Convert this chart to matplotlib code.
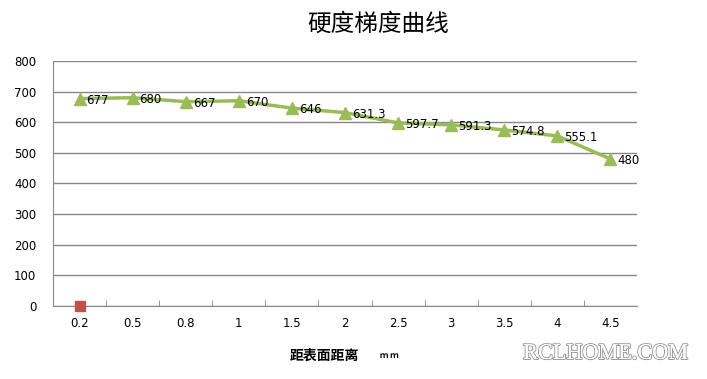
import matplotlib
matplotlib.use("Agg")
import matplotlib.pyplot as plt
import matplotlib.patheffects as pe

categories = ["0.2", "0.5", "0.8", "1", "1.5", "2", "2.5", "3", "3.5", "4", "4.5"]
hardness = [677, 680, 667, 670, 646, 631.3, 597.7, 591.3, 574.8, 555.1, 480]
labels = ["677", "680", "667", "670", "646", "631.3", "597.7", "591.3", "574.8", "555.1", "480"]
series2 = [0]
yticks = [0, 100, 200, 300, 400, 500, 600, 700, 800]

plt.rcParams['font.family'] = ['Noto Sans CJK SC', 'DejaVu Sans']

fig = plt.figure(figsize=(7.07, 3.79), dpi=100)
ax = fig.add_axes([0.075, 0.1926, 0.826, 0.6466])

x = list(range(len(categories)))
ax.plot(x, hardness, color="#9BBB59", lw=2.5, marker="^", ms=8, zorder=3)
ax.plot(x[:len(series2)], series2, color="#C0504D", marker="s", ms=7, ls="none", zorder=4, clip_on=False)
for xi, v, t in zip(x, hardness, labels):
    ax.annotate(t, (xi, v), xytext=(5, -1), textcoords="offset points",
                ha="left", va="center", fontsize=8.5, family=['DejaVu Sans'])

ax.set_xlim(-0.5, len(categories) - 0.5)
ax.set_ylim(0, 800)
ax.set_yticks(yticks)
ax.set_yticklabels([str(v) for v in yticks], fontsize=8.5, family=['DejaVu Sans'])
ax.set_xticks(x)
ax.set_xticklabels(categories, fontsize=8.5, family=['DejaVu Sans'])
ax.set_xticks([i + 0.5 for i in x[:-1]], minor=True)
ax.tick_params(axis='x', which='major', length=0, pad=8)
ax.tick_params(axis='x', which='minor', length=4, direction='in', color="#888888")
ax.tick_params(axis='y', length=0, pad=12)
ax.yaxis.grid(True, color="#888888", lw=1)
ax.set_axisbelow(True)
for s in ["top", "right"]:
    ax.spines[s].set_visible(False)
ax.spines["left"].set_color("#888888")
ax.spines["bottom"].set_color("#888888")

fig.text(0.535, 0.935, "硬度梯度曲线", ha="center", va="center", fontsize=17, fontweight="medium")
fig.text(0.41, 0.062, "距表面距离", ha="left", va="center", fontsize=10, fontweight="bold")
fig.text(0.537, 0.062, "ｍ ｍ", ha="left", va="center", fontsize=6, fontweight="bold")
fig.text(0.74, 0.065, "RCLHOME.COM", ha="left", va="center", fontsize=16,
         family=['Liberation Serif'], color="white",
         path_effects=[pe.withStroke(linewidth=1.5, foreground="#999999"), pe.Normal()])

fig.savefig("out.png", dpi=100)
